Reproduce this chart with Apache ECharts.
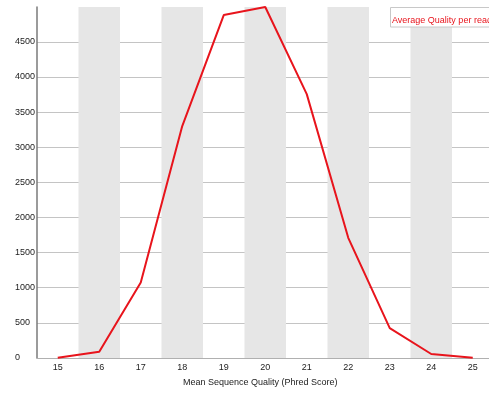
<!DOCTYPE html>
<html><head><meta charset="utf-8">
<script src="https://cdn.jsdelivr.net/npm/echarts@6/dist/echarts.min.js"></script>
<style>html,body{margin:0;padding:0;background:#fff;overflow:hidden}#c{width:494px;height:394px}</style>
</head><body><div id="c"></div>
<script>
var categories = ['15','16','17','18','19','20','21','22','23','24','25'];
var avgQuality = [3, 88, 1075, 3300, 4880, 4995, 3755, 1710, 425, 57, 4];
var seriesName = 'Average Quality per read';
var xTitle = 'Mean Sequence Quality (Phred Score)';

var chart = echarts.init(document.getElementById('c'), null, {renderer: 'canvas'});
var font = 'Liberation Sans, Arial, sans-serif';
var gridColors = [];
for (var i = 0; i < 10; i++) gridColors.push('#c4c4c4');
gridColors.push('rgba(0,0,0,0)');
chart.setOption({
  animation: false,
  grid: {left: 37, right: 0.5, top: 7, bottom: 36, containLabel: false},
  graphic: [
    {type: 'text', left: 183, top: 378, style: {text: xTitle, fill: '#222', font: '9px ' + font}},
    {type: 'rect', shape: {x: 390.5, y: 7.5, width: 120, height: 19.5}, style: {fill: '#fff', stroke: '#c8c8c8', lineWidth: 1}, z: 10},
    {type: 'text', x: 392, y: 20.5, style: {text: seriesName, fill: '#e8141c', font: '9px ' + font, textVerticalAlign: 'middle', verticalAlign: 'middle'}, z: 11}
  ],
  xAxis: {
    type: 'category', data: categories, boundaryGap: true,
    axisLine: {show: true, lineStyle: {color: '#b0b0b0', width: 1}},
    axisTick: {show: false},
    axisLabel: {color: '#222', fontFamily: font, fontSize: 9, margin: 5},
    splitArea: {show: true, areaStyle: {color: ['rgba(255,255,255,0)', '#e6e6e6']}},
    splitLine: {show: false}
  },
  yAxis: {
    type: 'value', min: 0, max: 4995, interval: 500,
    axisLine: {show: true, lineStyle: {color: '#7a7a7a', width: 1.5}},
    axisTick: {show: false},
    axisLabel: {color: '#222', fontFamily: font, fontSize: 9, margin: 22, align: 'left', showMaxLabel: false,
      formatter: function (v) { return String(v); }},
    splitLine: {show: true, lineStyle: {color: gridColors, width: 1}}
  },
  series: [{
    name: seriesName, type: 'line', data: avgQuality, symbol: 'none',
    lineStyle: {color: '#e8141c', width: 2}, itemStyle: {color: '#e8141c'}, z: 5
  }]
});
</script></body></html>
